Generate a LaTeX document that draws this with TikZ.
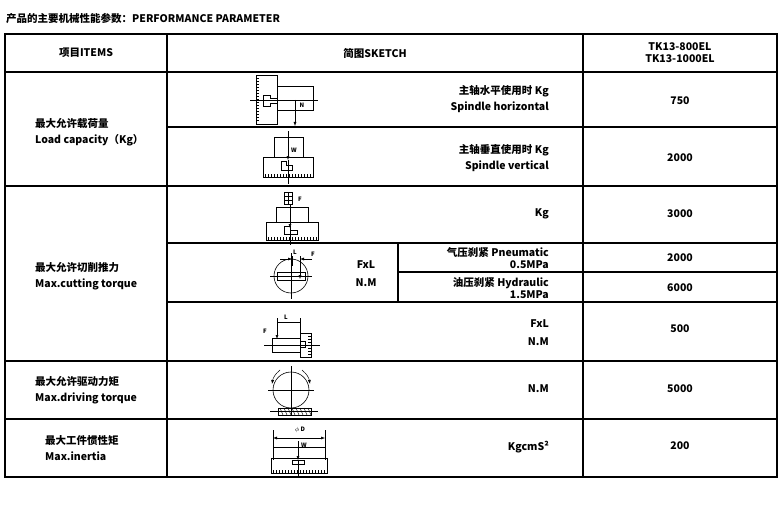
\documentclass[tikz,border=0pt]{standalone}
\usepackage{fontspec}
\setmainfont{Noto Sans CJK SC}
\usetikzlibrary{arrows.meta}
\begin{document}
\begin{tikzpicture}[x=1pt,y=-1pt,
 grid/.style={line width=1.4pt},
 sk/.style={line width=0.6pt},
 cl/.style={line width=0.4pt},
 arr/.style={line width=0.5pt,-{Latex[length=4pt,width=3pt]}},
 txt/.style={font=\fontsize{10.5}{16}\selectfont\bfseries,inner sep=0pt,align=center},
 rtxt/.style={txt,align=right,anchor=east},
 lbl/.style={font=\fontsize{6}{6}\selectfont\bfseries,inner sep=0pt}]
\useasboundingbox (0,0) rectangle (780,527);
% title
\node[txt,anchor=west] (title) at (6,19) {产品的主要机械性能参数：PERFORMANCE PARAMETER};
% grid
\draw[grid] (5,34) rectangle (777,477);
\draw[grid] (5,72) -- (777,72);
\draw[grid] (167,34) -- (167,477) (583,34) -- (583,477);
\draw[grid] (167,127) -- (777,127);
\draw[grid] (5,186) -- (777,186);
\draw[grid] (167,243) -- (777,243);
\draw[grid] (398,272) -- (777,272);
\draw[grid] (398,243) -- (398,302);
\draw[grid] (167,302) -- (777,302);
\draw[grid] (5,361) -- (777,361);
\draw[grid] (5,419) -- (777,419);
% headers
\node[txt] (h1) at (86,53) {项目ITEMS};
\node[txt] (h2) at (375,53) {简图SKETCH};
\node[txt,font=\fontsize{10.5}{12}\selectfont\bfseries] (h3) at (680,53) {TK13-800EL\\TK13-1000EL};
% items
\node[txt,align=left,anchor=west] (i1) at (35,132) {最大允许载荷量\\Load capacity（Kg）};
\node[txt,align=left,anchor=west] (i2) at (35,276) {最大允许切削推力\\Max.cutting torque};
\node[txt,align=left,anchor=west] (i3) at (35,390) {最大允许驱动力矩\\Max.driving torque};
\node[txt,align=left,anchor=west] (i4) at (45,448) {最大工件惯性矩\\Max.inertia};
% descriptions
\node[rtxt] (d1) at (549,99) {主轴水平使用时 Kg\\Spindle horizontal};
\node[rtxt] (d2) at (549,158) {主轴垂直使用时 Kg\\Spindle vertical};
\node[rtxt] (d3) at (549,214) {Kg};
\node[txt] (d4) at (366,274) {FxL\\[2pt]N.M};
\node[rtxt,font=\fontsize{10.5}{12}\selectfont\bfseries] (d5) at (549,258) {气压刹紧 Pneumatic\\0.5MPa};
\node[rtxt,font=\fontsize{10.5}{12}\selectfont\bfseries] (d6) at (549,288) {油压刹紧 Hydraulic\\1.5MPa};
\node[rtxt] (d7) at (549,333) {FxL\\[2pt]N.M};
\node[rtxt] (d8) at (549,389) {N.M};
\node[rtxt] (d9) at (549,447) {KgcmS²};
% values
\node[txt] (v1) at (680,101) {750};
\node[txt] (v2) at (680,158) {2000};
\node[txt] (v3) at (680,214) {3000};
\node[txt] (v4) at (680,258) {2000};
\node[txt] (v5) at (680,288) {6000};
\node[txt] (v6) at (680,329) {500};
\node[txt] (v7) at (680,389) {5000};
\node[txt] (v8) at (680,446) {200};
% sketch 1
\draw[sk] (256,75) rectangle (277,124);
\foreach \y in {78,81,...,122} \draw[cl] (256,\y) -- (259,\y);
\draw[sk] (277,86) rectangle (313,110);
\draw[sk] (263,95) -- (270,95) -- (270,98) -- (277,98) -- (277,103) -- (270,103) -- (270,106) -- (263,106) -- cycle;
\draw[cl] (250,100) -- (318,100);
\coordinate (s1a) at (295,100); \coordinate (s1b) at (295,126);
\draw[arr] (s1a) -- (s1b);
\node[lbl] (s1n) at (302,105) {N};
% sketch 2
\draw[sk] (274,137) rectangle (303,157);
\draw[sk] (263,157) rectangle (313,177);
\foreach \x in {265,268,...,311} \draw[cl] (\x,177) -- (\x,174);
\draw[sk] (281,161) -- (286,161) -- (286,165) -- (292,165) -- (292,170) -- (281,170) -- cycle;
\coordinate (s2a) at (288,131); \coordinate (s2b) at (288,160);
\draw[arr] (s2a) -- (s2b); \draw[cl] (288,160) -- (288,184);
\node[lbl] (s2w) at (294,150) {W};
% sketch 3
\draw[sk] (284,192) rectangle (292,204);
\draw[cl] (288,192) -- (288,204) (284,196) -- (292,196) (284,200) -- (292,200);
\draw[sk] (276,207) rectangle (308,222);
\draw[sk] (266,222) rectangle (318,240);
\foreach \x in {268,271,...,316} \draw[cl] (\x,240) -- (\x,237);
\draw[sk] (284,226) -- (290,226) -- (290,230) -- (297,230) -- (297,234) -- (284,234) -- cycle;
\coordinate (s3a) at (290,204); \coordinate (s3b) at (290,228);
\draw[arr] (s3a) -- (s3b); \draw[cl] (290,228) -- (290,245);
\node[lbl] (s3f) at (300,199) {F};
% sketch 4
\draw[sk] (291,276) circle (17);
\draw[sk] (277,272) rectangle (305,280);
\draw[cl] (270,276) -- (312,276) (291,253) -- (291,299);
\draw[cl] (292,256) -- (292,266) (300,256) -- (300,266);
\coordinate (s4a) at (280,259); \coordinate (s4b) at (292,259);
\draw[arr] (s4a) -- (s4b);
\coordinate (s4c) at (312,259); \coordinate (s4d) at (300,259);
\draw[arr] (s4c) -- (s4d);
\coordinate (s4e) at (300,265); \coordinate (s4f) at (300,279);
\draw[arr] (s4e) -- (s4f);
\node[lbl] (s4l) at (295,252) {L};
\node[lbl] (s4fl) at (313,254) {F};
% sketch 5
\draw[cl] (277,318) -- (277,332) (300,318) -- (300,336);
\draw[cl] (277,322) -- (300,322);
\draw[sk] (272,338) rectangle (300,352);
\draw[sk] (300,333) rectangle (311,357);
\foreach \y in {336,339,...,354} \draw[cl] (311,\y) -- (308,\y);
\draw[sk] (301,341) -- (305,341) -- (305,347) -- (301,347);
\draw[cl] (264,345) -- (320,345);
\coordinate (s5a) at (277,322); \coordinate (s5b) at (277,339);
\draw[arr] (s5a) -- (s5b);
\node[lbl] (s5l) at (286,317) {L};
\node[lbl] (s5f) at (265,331) {F};
% sketch 6
\draw[sk] (291,390) circle (18);
\draw[cl] (268,390) -- (314,390) (291,366) -- (291,416);
\coordinate (s6a) at (280,370); \coordinate (s6b) at (272,384);
\draw[arr] (s6a) to[bend right=20] (s6b);
\coordinate (s6c) at (302,370); \coordinate (s6d) at (310,384);
\draw[arr] (s6c) to[bend left=20] (s6d);
\draw[sk] (278,408) rectangle (311,415);
\foreach \x in {280,284,...,308} \draw[cl] (\x,408) -- (\x+3,415);
\draw[cl] (270,411.5) -- (318,411.5);
% sketch 7
\draw[cl] (273,430) -- (273,460) (325,430) -- (325,460);
\coordinate (s7a) at (298,438); \coordinate (s7b) at (273,438); \coordinate (s7c) at (325,438);
\draw[arr] (s7a) -- (s7b); \draw[arr] (s7a) -- (s7c);
\node[lbl] (s7d) at (300,430) {$\phi$ D};
\draw[sk] (273,447) rectangle (325,458);
\draw[sk] (271,458) rectangle (327,473);
\foreach \x in {273,276,...,325} \draw[cl] (\x,473) -- (\x,470);
\draw[sk] (292,460) -- (304,460) -- (304,464) -- (292,464) -- cycle;
\coordinate (s7e) at (298,441); \coordinate (s7f) at (298,460);
\draw[arr] (s7e) -- (s7f); \draw[cl] (298,460) -- (298,476);
\node[lbl] (s7w) at (304,445) {W};
\end{tikzpicture}
\end{document}
